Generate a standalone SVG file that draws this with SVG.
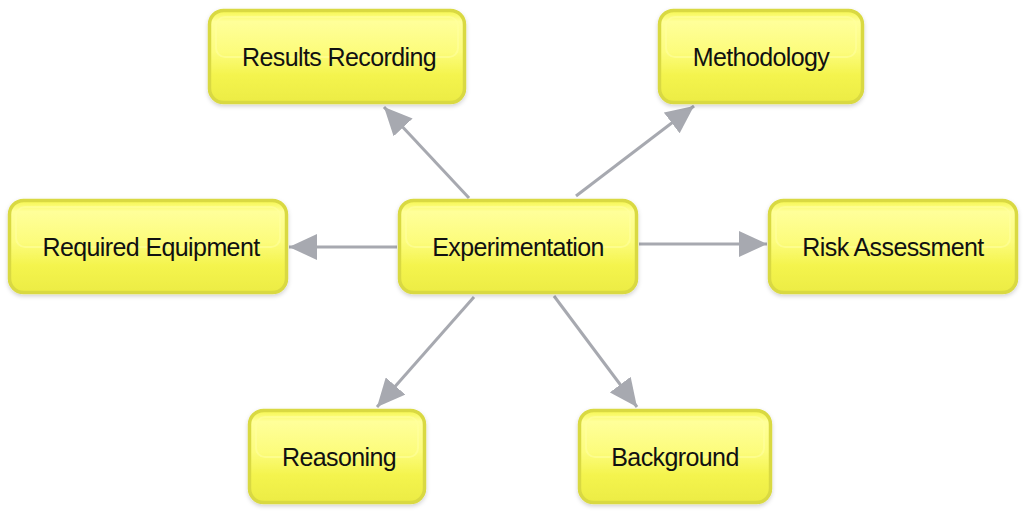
<svg xmlns="http://www.w3.org/2000/svg" width="1030" height="522" viewBox="0 0 1030 522">
<defs>
<linearGradient id="g" x1="0" y1="0" x2="0" y2="1">
<stop offset="0" stop-color="#f6f64e"/>
<stop offset="0.12" stop-color="#ffff9a"/>
<stop offset="0.45" stop-color="#fcfc7c"/>
<stop offset="0.7" stop-color="#f4f44e"/>
<stop offset="1" stop-color="#ecec44"/>
</linearGradient>
<filter id="sh" x="-10%" y="-10%" width="120%" height="130%">
<feDropShadow dx="0" dy="2" stdDeviation="2" flood-color="#000" flood-opacity="0.18"/>
</filter>
<marker id="arr" viewBox="0 0 28 26" refX="28" refY="13" markerWidth="28" markerHeight="26" markerUnits="userSpaceOnUse" orient="auto">
<path d="M0,0 L28,13 L0,26 z" fill="#a7a9b0"/>
</marker>
</defs>
<style>
.box{fill:url(#g);stroke:#d9d943;stroke-width:3.5;filter:url(#sh)}
.hl{fill:none;stroke:#ffff9e;stroke-width:2;opacity:0.6}
.t{font-family:"Liberation Sans",Arial,sans-serif;font-size:25px;fill:#111;text-anchor:middle;letter-spacing:-0.6px}
.e{stroke:#a7a9b0;stroke-width:3;fill:none;marker-end:url(#arr)}
</style>
<g id="connectors">
<line class="e" x1="469" y1="198" x2="384" y2="107"/>
<line class="e" x1="576" y1="196" x2="694" y2="106"/>
<line class="e" x1="397" y1="247" x2="289" y2="247"/>
<line class="e" x1="639" y1="244" x2="767" y2="244"/>
<line class="e" x1="474" y1="297" x2="377" y2="407"/>
<line class="e" x1="554" y1="296" x2="637" y2="407"/>
</g>
<g id="results-recording">
<rect class="box" x="209.5" y="10.5" width="255" height="92" rx="14"/>
<rect class="hl" x="216" y="17" width="242" height="40" rx="9"/>
<text class="t" x="339" y="66">Results Recording</text>
</g>
<g id="methodology">
<rect class="box" x="659.5" y="10.5" width="203" height="92" rx="14"/>
<rect class="hl" x="666" y="17" width="190" height="40" rx="9"/>
<text class="t" x="761" y="66">Methodology</text>
</g>
<g id="required-equipment">
<rect class="box" x="9.5" y="200.5" width="277" height="92" rx="14"/>
<rect class="hl" x="16" y="207" width="264" height="40" rx="9"/>
<text class="t" x="151" y="256">Required Equipment</text>
</g>
<g id="experimentation">
<rect class="box" x="399.5" y="200.5" width="237" height="92" rx="14"/>
<rect class="hl" x="406" y="207" width="224" height="40" rx="9"/>
<text class="t" x="518" y="256">Experimentation</text>
</g>
<g id="risk-assessment">
<rect class="box" x="769.5" y="200.5" width="247" height="92" rx="14"/>
<rect class="hl" x="776" y="207" width="234" height="40" rx="9"/>
<text class="t" x="893" y="256">Risk Assessment</text>
</g>
<g id="reasoning">
<rect class="box" x="249.5" y="410.5" width="175" height="92" rx="14"/>
<rect class="hl" x="256" y="417" width="162" height="40" rx="9"/>
<text class="t" x="339" y="466">Reasoning</text>
</g>
<g id="background">
<rect class="box" x="579.5" y="410.5" width="191" height="92" rx="14"/>
<rect class="hl" x="586" y="417" width="178" height="40" rx="9"/>
<text class="t" x="675" y="466">Background</text>
</g>
</svg>
